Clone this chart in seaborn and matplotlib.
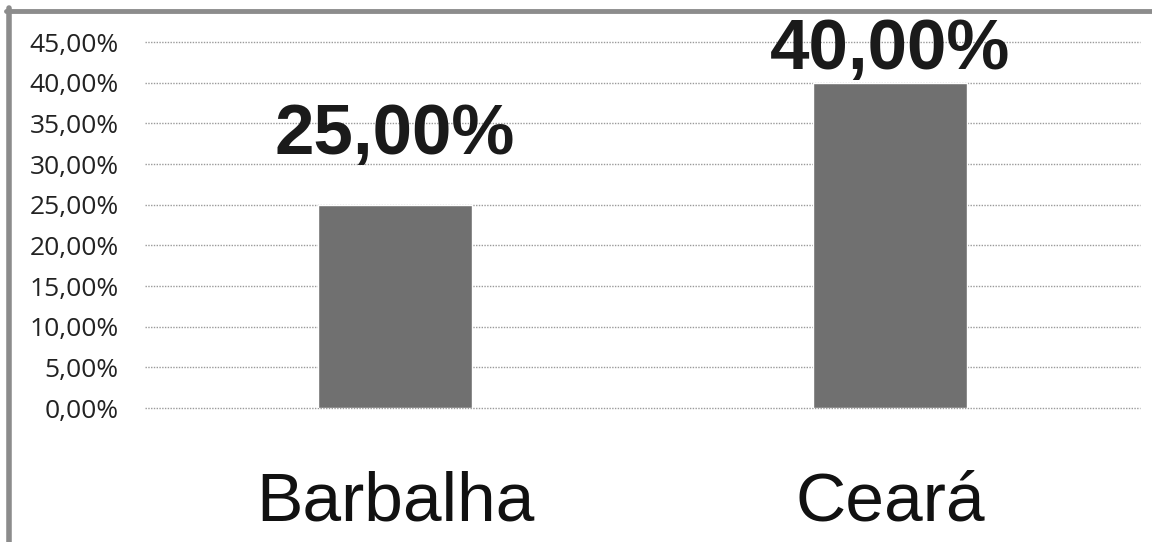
import matplotlib
matplotlib.use("Agg")
import matplotlib.pyplot as plt
import seaborn as sns
import pandas as pd
from matplotlib.lines import Line2D

cidades = ["Barbalha", "Ceará"]
valores = [25.0, 40.0]
rotulos = ["25,00%", "40,00%"]
yticks = [0, 5, 10, 15, 20, 25, 30, 35, 40, 45]

df = pd.DataFrame({"cidade": cidades, "valor": valores})

sns.set_style("white")
fig = plt.figure(figsize=(11.52, 5.42), dpi=100)
ax = fig.add_axes([0.1259, 0.2472, 0.8637, 0.6753])

sns.barplot(data=df, x="cidade", y="valor", color="#707070", saturation=1,
            width=0.31, ax=ax)

ax.set_ylim(0, 45)
ax.set_xlim(-0.505, 1.505)
ax.set_yticks(yticks)
ax.set_yticklabels([f"{t:.2f}%".replace(".", ",") for t in yticks],
                   fontsize=19, family="Open Sans", color="#222222")
ax.tick_params(axis="y", length=0, pad=19)
ax.tick_params(axis="x", length=0, pad=45)
for lab in ax.get_xticklabels():
    lab.set_fontsize(50)
    lab.set_family("Liberation Sans")
    lab.set_color("#111111")
ax.set_xlabel("")
ax.set_ylabel("")
for s in ax.spines.values():
    s.set_visible(False)

ax.yaxis.grid(True, linestyle=(0, (1, 1)), color="#9a9a9a", linewidth=1)
ax.set_axisbelow(True)
for gl in ax.get_ygridlines():
    gl.set_clip_on(False)

# rotulos de dados
offsets = [26, -1]
for i, (v, r) in enumerate(zip(valores, rotulos)):
    ax.annotate(r, (i, v), xytext=(0, offsets[i]), textcoords="offset points",
                ha="center", va="bottom", fontsize=51, fontweight="bold",
                family="Liberation Sans", color="#1a1a1a", annotation_clip=False)

# moldura do scan
fig.add_artist(Line2D([0.0078, 0.0078], [0, 0.985], transform=fig.transFigure,
                      color="#8c8c8c", linewidth=4))
fig.add_artist(Line2D([0.005, 1], [0.979, 0.979], transform=fig.transFigure,
                      color="#8c8c8c", linewidth=3.5))

fig.savefig("out.png", dpi=100)
